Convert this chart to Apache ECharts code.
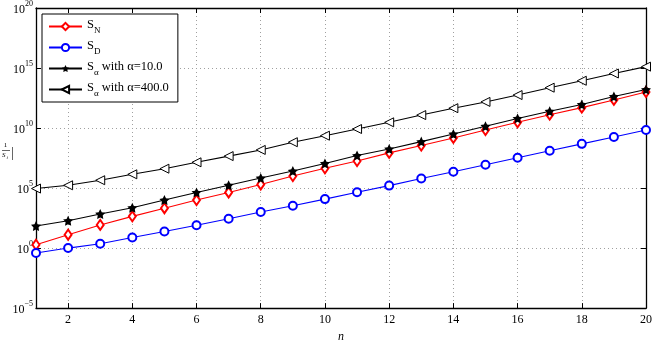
<!DOCTYPE html>
<html>
<head>
<meta charset="utf-8">
<script src="https://cdn.jsdelivr.net/npm/echarts@6/dist/echarts.min.js"></script>
<style>
  html, body { margin: 0; padding: 0; background: #fff; }
  #chart { width: 660px; height: 348px; }
</style>
</head>
<body>
<div id="chart"></div>
<script>
const nValues = [1, 2, 3, 4, 5, 6, 7, 8, 9, 10, 11, 12, 13, 14, 15, 16, 17, 18, 19, 20]
const xTicks = [2, 4, 6, 8, 10, 12, 14, 16, 18, 20]

const sN = [1.9, 1.3e1, 8.5e1, 4.4e2, 2.1e3, 1.0e4, 4.3e4, 2.0e5, 1.0e6, 4.4e6,
  1.8e7, 8.5e7, 3.5e8, 1.5e9, 6.8e9, 3.0e10, 1.3e11, 5.0e11, 2.2e12, 1.0e13]
const sD = [3.9e-1, 1.0, 2.3, 7.6, 2.4e1, 7.9e1, 2.8e2, 1.0e3, 3.4e3, 1.2e4,
  4.5e4, 1.6e5, 6.2e5, 2.3e6, 8.7e6, 3.3e7, 1.3e8, 4.8e8, 1.8e9, 6.8e9]
const sA10 = [6.9e1, 1.9e2, 6.9e2, 2.3e3, 1.0e4, 4.3e4, 1.7e5, 6.9e5, 2.6e6, 1.1e7,
  5.1e7, 1.8e8, 7.4e8, 3.2e9, 1.4e10, 6.3e10, 2.5e11, 9.1e11, 4.2e12, 1.6e13]
const sA400 = [9.1e4, 1.7e5, 4.5e5, 1.4e6, 4.1e6, 1.4e7, 4.6e7, 1.5e8, 6.6e8, 2.3e9,
  8.3e9, 3.0e10, 1.2e11, 4.5e11, 1.5e12, 5.6e12, 2.3e13, 8.7e13, 3.5e14, 1.3e15]

const serif = 'Liberation Serif'
const starPath = 'path://M0,-10L2.94,-4.05L9.51,-3.09L4.76,1.55L5.88,8.09L0,5.2L-5.88,8.09L-4.76,1.55L-9.51,-3.09L-2.94,-4.05Z'
const triLeft = 'path://M0,5L10,0L10,10Z'

const legendText = {
  'S_N': '{b|S}{s|N}',
  'S_D': '{b|S}{s|D}',
  'S_a10': '{b|S}{s|α}{b| with α=10.0}',
  'S_a400': '{b|S}{s|α}{b| with α=400.0}'
}

const pairs = arr => nValues.map((n, i) => [n, arr[i]])

const chart = echarts.init(document.getElementById('chart'))

const dotted = { show: true, lineStyle: { color: '#a0a0a0', width: 1, type: [1, 3] } }
const axisLine = { show: true, onZero: false, lineStyle: { color: '#000', width: 1.3 } }

const option = {
  backgroundColor: '#fff',
  animation: false,
  grid: { left: 36, right: 14, top: 7, bottom: 37 },
  legend: {
    orient: 'vertical',
    left: 42,
    top: 14,
    padding: [4, 9, 4, 6],
    itemWidth: 33,
    itemHeight: 9,
    itemGap: 4,
    backgroundColor: '#fff',
    borderColor: '#000',
    borderWidth: 1,
    formatter: name => legendText[name],
    textStyle: {
      fontFamily: serif,
      color: '#000',
      rich: {
        b: { fontFamily: serif, fontSize: 12.5, lineHeight: 17, verticalAlign: 'top' },
        s: { fontFamily: serif, fontSize: 9, lineHeight: 17, verticalAlign: 'bottom' }
      }
    }
  },
  graphic: [
    {
      type: 'text',
      style: { x: 5.5, y: 149, text: '1', textAlign: 'center', textVerticalAlign: 'bottom',
        fontFamily: serif, fontSize: 7, fill: '#000' }
    },
    {
      type: 'line', shape: { x1: 2, y1: 150.5, x2: 10, y2: 150.5 },
      style: { stroke: '#000', lineWidth: 0.6 }
    },
    {
      type: 'text',
      style: { x: 2, y: 152, text: 'S', textAlign: 'left', textVerticalAlign: 'top',
        fontFamily: serif, fontStyle: 'italic', fontSize: 7, fill: '#000' }
    },
    {
      type: 'text',
      style: { x: 6.5, y: 155, text: 'i', textAlign: 'left', textVerticalAlign: 'top',
        fontFamily: serif, fontStyle: 'italic', fontSize: 5, fill: '#000' }
    },
    {
      type: 'line', shape: { x1: 12.5, y1: 147, x2: 12.5, y2: 160 },
      style: { stroke: '#000', lineWidth: 0.6 }
    }
  ],
  xAxis: [
    {
      type: 'value',
      min: 1,
      max: 20,
      name: 'n',
      nameLocation: 'middle',
      nameGap: 21,
      nameTextStyle: { fontFamily: serif, fontStyle: 'italic', fontSize: 12, color: '#000' },
      axisLine: axisLine,
      axisTick: { show: true, inside: true, length: 5, customValues: xTicks, lineStyle: { color: '#000' } },
      axisLabel: { customValues: xTicks, fontFamily: serif, fontSize: 12, color: '#000', margin: 6 },
      splitLine: dotted
    },
    {
      type: 'value',
      position: 'top',
      min: 1,
      max: 20,
      axisLine: axisLine,
      axisTick: { show: true, inside: true, length: 5, customValues: xTicks, lineStyle: { color: '#000' } },
      axisLabel: { show: false, customValues: xTicks },
      splitLine: { show: false }
    }
  ],
  yAxis: [
    {
      type: 'log',
      logBase: 10,
      min: 1e-5,
      max: 1e20,
      interval: 5,
      axisLine: axisLine,
      axisTick: { show: true, inside: true, length: 5, lineStyle: { color: '#000' } },
      minorTick: { show: false },
      axisLabel: {
        margin: 3,
        formatter: v => {
          const e = Math.round(Math.log10(v))
          return '{b|10}{e|' + String(e).replace('-', '−') + '}'
        },
        rich: {
          b: { fontFamily: serif, fontSize: 12, lineHeight: 16, verticalAlign: 'bottom', color: '#000' },
          e: { fontFamily: serif, fontSize: 8, lineHeight: 16, verticalAlign: 'top', color: '#000' }
        }
      },
      splitLine: dotted
    },
    {
      type: 'log',
      logBase: 10,
      min: 1e-5,
      max: 1e20,
      interval: 5,
      position: 'right',
      axisLine: axisLine,
      axisTick: { show: true, inside: true, length: 5, lineStyle: { color: '#000' } },
      axisLabel: { show: false },
      splitLine: { show: false }
    }
  ],
  series: [
    {
      name: 'S_N',
      type: 'line',
      data: pairs(sN),
      symbol: 'emptyDiamond',
      symbolSize: [7, 10],
      color: '#ff0000',
      lineStyle: { width: 1.1, color: '#ff0000' },
      itemStyle: { color: '#ff0000', borderWidth: 1 }
    },
    {
      name: 'S_D',
      type: 'line',
      data: pairs(sD),
      symbol: 'emptyCircle',
      symbolSize: 8,
      color: '#0000ff',
      lineStyle: { width: 1.1, color: '#0000ff' },
      itemStyle: { color: '#0000ff', borderWidth: 1 }
    },
    {
      name: 'S_a10',
      type: 'line',
      data: pairs(sA10),
      symbol: starPath,
      symbolSize: 10,
      color: '#000',
      lineStyle: { width: 1.1, color: '#000' },
      itemStyle: { color: '#000' }
    },
    {
      name: 'S_a400',
      type: 'line',
      data: pairs(sA400),
      symbol: triLeft,
      symbolSize: 9,
      lineStyle: { width: 1.1, color: '#000' },
      itemStyle: { color: '#fff', borderColor: '#000', borderWidth: 1 }
    }
  ]
}

chart.setOption(option)
</script>
</body>
</html>
